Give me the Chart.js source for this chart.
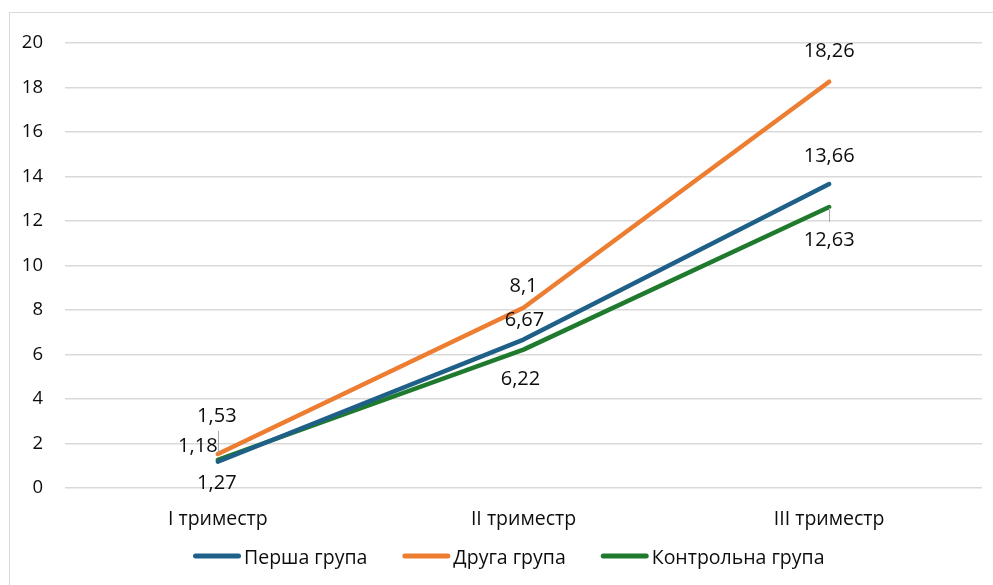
<!DOCTYPE html>
<html>
<head>
<meta charset="utf-8">
<script src="https://cdn.jsdelivr.net/npm/chart.js@4.4.1/dist/chart.umd.min.js"></script>
<style>
  html, body { margin: 0; padding: 0; background: #fff; }
  #wrap { position: relative; width: 993px; height: 585px; overflow: hidden; }
  #frame { position: absolute; left: 9px; top: 12px; width: 1100px; height: 700px;
           border-left: 1px solid #d9d9d9; border-top: 1px solid #d9d9d9; }
  canvas { position: absolute; left: 0; top: 0; }
</style>
</head>
<body>
<div id="wrap">
  <div id="frame"></div>
  <canvas id="chart" width="993" height="585"></canvas>
</div>
<script>
// Trimesters along the x axis
const categories = ['I триместр', 'II триместр', 'III триместр'];

// Series values per trimester
const firstGroup   = [1.18, 6.67, 13.66];
const secondGroup  = [1.53, 8.1, 18.26];
const controlGroup = [1.27, 6.22, 12.63];

const seriesNames = ['Перша група', 'Друга група', 'Контрольна група'];

// Y axis range and step
const yMin = 0, yMax = 20, yStep = 2;

const FONT = '"Open Sans", sans-serif';
const TEXT = '#0d0d0d';

// Placement of each value label relative to its point: [dx, dy, leaderFrom, leaderTo]
const labelPlacement = [
  [[-20, -15], [1, -19], [0, -28]],
  [[-1, -38, -23, -1], [0, -21], [0, -30]],
  [[-1, 24], [-3, 30], [0, 33, 1, 15]]
];

const valueLabels = {
  id: 'valueLabels',
  afterDatasetsDraw(chart) {
    const ctx = chart.ctx;
    ctx.save();
    ctx.font = '20px ' + FONT;
    ctx.textAlign = 'center';
    ctx.textBaseline = 'middle';
    chart.data.datasets.forEach((ds, di) => {
      const meta = chart.getDatasetMeta(di);
      meta.data.forEach((pt, i) => {
        const p = labelPlacement[di][i];
        if (p.length > 2) {
          ctx.strokeStyle = '#a6a6a6';
          ctx.lineWidth = 1;
          ctx.beginPath();
          ctx.moveTo(Math.round(pt.x) + 0.5, pt.y + p[2]);
          ctx.lineTo(Math.round(pt.x) + 0.5, pt.y + p[3]);
          ctx.stroke();
        }
        ctx.fillStyle = TEXT;
        ctx.fillText(String(ds.data[i]).replace('.', ','), pt.x + p[0], pt.y + p[1]);
      });
    });
    ctx.restore();
  }
};

// Legend row under the axis: line swatch followed by the series name
const legendRow = {
  id: 'legendRow',
  afterDraw(chart) {
    const ctx = chart.ctx;
    const startX = 193, lineY = 556, textY = 558, swatch = 48, textGap = 3, itemGap = 35;
    ctx.save();
    ctx.font = '19.5px ' + FONT;
    ctx.textAlign = 'left';
    ctx.textBaseline = 'middle';
    let x = startX;
    chart.data.datasets.forEach(ds => {
      ctx.strokeStyle = ds.borderColor;
      ctx.lineWidth = 5;
      ctx.lineCap = 'round';
      ctx.beginPath();
      ctx.moveTo(x + 2.5, lineY);
      ctx.lineTo(x + swatch - 2.5, lineY);
      ctx.stroke();
      x += swatch + textGap;
      ctx.fillStyle = TEXT;
      ctx.fillText(ds.label, x, textY);
      x += ctx.measureText(ds.label).width + itemGap;
    });
    ctx.restore();
  }
};

const colors = ['#1f6089', '#ed7d31', '#1f7a2e'];
const seriesData = [firstGroup, secondGroup, controlGroup];

new Chart(document.getElementById('chart'), {
  type: 'line',
  data: {
    labels: categories,
    datasets: seriesData.map((d, i) => ({
      label: seriesNames[i],
      data: d,
      borderColor: colors[i],
      backgroundColor: colors[i],
      borderWidth: 4.5,
      borderCapStyle: 'round',
      borderJoinStyle: 'round',
      pointRadius: 0,
      tension: 0,
      fill: false
    }))
  },
  options: {
    responsive: false,
    animation: false,
    devicePixelRatio: 1,
    layout: { padding: { top: 43, right: 11, left: 0, bottom: 47 } },
    scales: {
      x: {
        offset: true,
        grid: { display: false, drawTicks: false },
        border: { display: false },
        ticks: { color: TEXT, font: { family: FONT, size: 19.5 }, padding: 20, maxRotation: 0 },
        afterFit(scale) { scale.height = 50; }
      },
      y: {
        min: yMin, max: yMax,
        grid: { color: '#d9d9d9', lineWidth: 1.5, drawTicks: false },
        border: { display: false },
        ticks: { stepSize: yStep, color: TEXT, font: { family: FONT, size: 18.5 }, padding: 22 },
        afterFit(scale) { scale.width = 65; }
      }
    },
    plugins: {
      legend: { display: false },
      tooltip: { enabled: false }
    }
  },
  plugins: [valueLabels, legendRow]
});
</script>
</body>
</html>
